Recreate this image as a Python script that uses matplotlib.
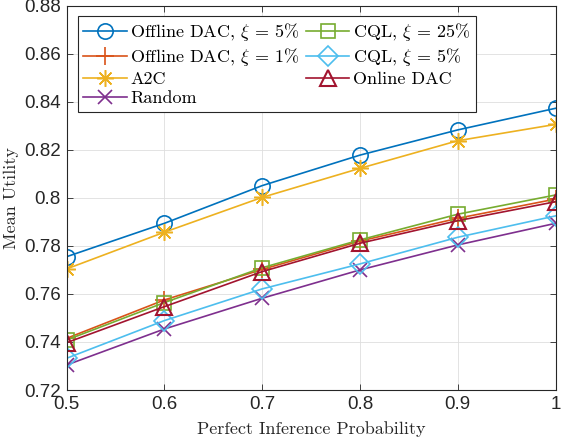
import matplotlib
matplotlib.use("Agg")
import matplotlib.pyplot as plt

x = [0.5, 0.6, 0.7, 0.8, 0.9, 1.0]

offline_dac_5 = [0.7755, 0.7894, 0.8051, 0.8178, 0.8283, 0.8373]
offline_dac_1 = [0.7415, 0.7575, 0.7702, 0.7820, 0.7915, 0.7995]
a2c = [0.7704, 0.7857, 0.8002, 0.8123, 0.8238, 0.8306]
rand_pol = [0.7304, 0.7454, 0.7582, 0.7700, 0.7804, 0.7894]
cql_25 = [0.7408, 0.7564, 0.7709, 0.7825, 0.7932, 0.8012]
cql_5 = [0.7332, 0.7489, 0.7621, 0.7725, 0.7836, 0.7925]
online_dac = [0.7397, 0.7547, 0.7693, 0.7811, 0.7905, 0.7984]

xticks = [0.5, 0.6, 0.7, 0.8, 0.9, 1.0]
xtick_labels = ['0.5', '0.6', '0.7', '0.8', '0.9', '1']
yticks = [0.72, 0.74, 0.76, 0.78, 0.8, 0.82, 0.84, 0.86, 0.88]
ytick_labels = ['0.72', '0.74', '0.76', '0.78', '0.8', '0.82', '0.84', '0.86', '0.88']

plt.rcParams['mathtext.fontset'] = 'cm'
plt.rcParams['font.family'] = ['Liberation Sans', 'DejaVu Sans']

# matlab default colors
c_blue = (0, 0.447, 0.741)
c_orange = (0.85, 0.325, 0.098)
c_yellow = (0.929, 0.694, 0.125)
c_purple = (0.494, 0.184, 0.556)
c_green = (0.466, 0.674, 0.188)
c_lblue = (0.301, 0.745, 0.933)
c_red = (0.635, 0.078, 0.184)
ax_col = (0.15, 0.15, 0.15)

fig = plt.figure(figsize=(5.66, 4.42), dpi=100)
ax = fig.add_axes([0.1175, 0.1176, 0.864, 0.8694])

ms = 11
lw = 1.2
ax.plot(x, offline_dac_5, color=c_blue, marker='o', ms=ms, mfc='none', mew=lw, lw=lw,
        label=r'Offline DAC, $\xi$ = $5\%$')
ax.plot(x, offline_dac_1, color=c_orange, marker='+', ms=ms + 2, mew=lw, lw=lw,
        label=r'Offline DAC, $\xi$ = $1\%$')
ax.plot(x, a2c, color=c_yellow, marker=(8, 2, 0), ms=ms + 1, mew=1.1, lw=lw,
        label='A2C')
ax.plot(x, rand_pol, color=c_purple, marker='x', ms=ms - 1, mew=lw, lw=lw,
        label='Random')
ax.plot(x, cql_25, color=c_green, marker='s', ms=ms - 1, mfc='none', mew=lw, lw=lw,
        label=r'CQL, $\xi$ = $25\%$')
ax.plot(x, cql_5, color=c_lblue, marker='D', ms=ms - 1, mfc='none', mew=lw, lw=lw,
        label=r'CQL, $\xi$ = $5\%$')
ax.plot(x, online_dac, color=c_red, marker='^', ms=ms + 1, mfc='none', mew=lw + 0.3, lw=lw,
        label='Online DAC')

ax.set_xlim(0.5, 1.0)
ax.set_ylim(0.72, 0.88)
ax.set_xticks(xticks)
ax.set_xticklabels(xtick_labels)
ax.set_yticks(yticks)
ax.set_yticklabels(ytick_labels)
ax.tick_params(direction='in', top=True, right=True, labelsize=13.5, colors=ax_col,
               length=4, width=0.6, pad=4)
for s in ax.spines.values():
    s.set_color(ax_col)
    s.set_linewidth(0.8)
ax.grid(True, color=(0.87, 0.87, 0.87), lw=0.6)
ax.set_axisbelow(True)

ax.set_xlabel('Perfect Inference Probability', family='cmr10', fontsize=13, color=ax_col, labelpad=6)
ax.set_ylabel('Mean Utility', family='cmr10', fontsize=13, color=ax_col, labelpad=4)

leg = ax.legend(ncol=2, loc='upper left', bbox_to_anchor=(0.023, 0.974),
                prop={'family': 'cmr10', 'size': 13}, frameon=True, fancybox=False,
                edgecolor=ax_col, framealpha=1, handlelength=2.4, handletextpad=0.2,
                columnspacing=0.35, labelspacing=0.18, borderpad=0.3, borderaxespad=0)
leg.get_frame().set_linewidth(0.8)

fig.savefig('out.png', dpi=100)
